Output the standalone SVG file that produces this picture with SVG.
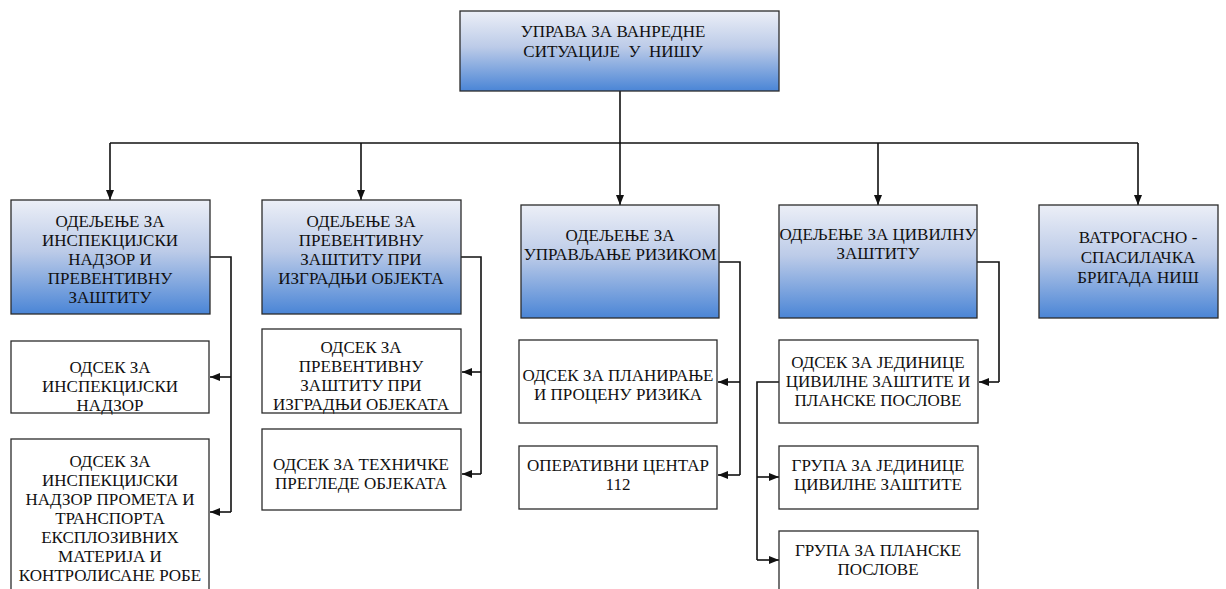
<svg xmlns="http://www.w3.org/2000/svg" width="1226" height="589" viewBox="0 0 1226 589" font-family="Liberation Serif, DejaVu Serif, serif" font-size="17">
<style>
text{fill:#111;text-anchor:middle}
.hd{fill:url(#g);stroke:#2b2b2b;stroke-width:1.3}
.sb{fill:#fff;stroke:#2b2b2b;stroke-width:1.3}
.c{fill:none;stroke:#111;stroke-width:1.6}
</style>
<defs>
<linearGradient id="g" x1="0" y1="0" x2="0" y2="1">
<stop offset="0" stop-color="#eceff7"/>
<stop offset="0.45" stop-color="#bccbe8"/>
<stop offset="1" stop-color="#4a85d6"/>
</linearGradient>
<marker id="a" viewBox="0 0 10 10" refX="10" refY="5" markerWidth="10" markerHeight="10" markerUnits="userSpaceOnUse" orient="auto">
<path d="M0,1 L10,5 L0,9 Z" fill="#111"/>
</marker>
</defs>
<g id="connectors">
<path class="c" d="M620,91 V143"/>
<path class="c" d="M110,143 H1138"/>
<path class="c" d="M110,143 V200" marker-end="url(#a)"/>
<path class="c" d="M361,143 V200" marker-end="url(#a)"/>
<path class="c" d="M620,143 V205" marker-end="url(#a)"/>
<path class="c" d="M878,143 V205" marker-end="url(#a)"/>
<path class="c" d="M1138,143 V205" marker-end="url(#a)"/>
<path class="c" d="M210,257 H231 V512"/>
<path class="c" d="M231,377 H210" marker-end="url(#a)"/>
<path class="c" d="M231,512 H210" marker-end="url(#a)"/>
<path class="c" d="M461,257 H481 V474"/>
<path class="c" d="M481,372 H462" marker-end="url(#a)"/>
<path class="c" d="M481,474 H462" marker-end="url(#a)"/>
<path class="c" d="M719,262 H740 V475"/>
<path class="c" d="M740,382 H718" marker-end="url(#a)"/>
<path class="c" d="M740,475 H718" marker-end="url(#a)"/>
<path class="c" d="M977,262 H999 V382"/>
<path class="c" d="M999,382 H979" marker-end="url(#a)"/>
<path class="c" d="M779,382 H757 V560"/>
<path class="c" d="M757,477 H779" marker-end="url(#a)"/>
<path class="c" d="M757,560 H779" marker-end="url(#a)"/>
</g>
<g id="uprava">
<rect class="hd" x="460" y="11" width="319" height="80"/>
<text x="613" y="37">УПРАВА ЗА ВАНРЕДНЕ</text>
<text x="613" y="57" xml:space="preserve">СИТУАЦИЈЕ  У  НИШУ</text>
</g>
<g id="odeljenje1">
<rect class="hd" x="11" y="200" width="199" height="114"/>
<text x="110" y="227">ОДЕЉЕЊЕ ЗА</text>
<text x="110" y="246">ИНСПЕКЦИЈСКИ</text>
<text x="110" y="265">НАДЗОР И</text>
<text x="110" y="284">ПРЕВЕНТИВНУ</text>
<text x="110" y="303">ЗАШТИТУ</text>
</g>
<g id="odeljenje2">
<rect class="hd" x="262" y="200" width="199" height="114"/>
<text x="361" y="227">ОДЕЉЕЊЕ ЗА</text>
<text x="361" y="246">ПРЕВЕНТИВНУ</text>
<text x="361" y="265">ЗАШТИТУ ПРИ</text>
<text x="361" y="284">ИЗГРАДЊИ ОБЈЕКТА</text>
</g>
<g id="odeljenje3">
<rect class="hd" x="521" y="205" width="198" height="113"/>
<text x="620" y="241">ОДЕЉЕЊЕ ЗА</text>
<text x="620" y="260">УПРАВЉАЊЕ РИЗИКОМ</text>
</g>
<g id="odeljenje4">
<rect class="hd" x="779" y="205" width="198" height="113"/>
<text x="878" y="240">ОДЕЉЕЊЕ ЗА ЦИВИЛНУ</text>
<text x="878" y="259">ЗАШТИТУ</text>
</g>
<g id="brigada">
<rect class="hd" x="1039" y="205" width="179" height="113"/>
<text x="1138" y="243">ВАТРОГАСНО -</text>
<text x="1138" y="263">СПАСИЛАЧКА</text>
<text x="1138" y="283">БРИГАДА НИШ</text>
</g>
<g id="odsek-inspekcijski">
<rect class="sb" x="11" y="341" width="198" height="72"/>
<text x="110" y="373">ОДСЕК ЗА</text>
<text x="110" y="392">ИНСПЕКЦИЈСКИ</text>
<text x="110" y="411">НАДЗОР</text>
</g>
<g id="odsek-promet">
<rect class="sb" x="11" y="439" width="198" height="160"/>
<text x="110" y="467">ОДСЕК ЗА</text>
<text x="110" y="486">ИНСПЕКЦИЈСКИ</text>
<text x="110" y="505">НАДЗОР ПРОМЕТА И</text>
<text x="110" y="524">ТРАНСПОРТА</text>
<text x="110" y="543">ЕКСПЛОЗИВНИХ</text>
<text x="110" y="562">МАТЕРИЈА И</text>
<text x="110" y="581">КОНТРОЛИСАНЕ РОБЕ</text>
</g>
<g id="odsek-preventivna">
<rect class="sb" x="262" y="329" width="199" height="84"/>
<text x="361" y="353">ОДСЕК ЗА</text>
<text x="361" y="372">ПРЕВЕНТИВНУ</text>
<text x="361" y="391">ЗАШТИТУ ПРИ</text>
<text x="361" y="410">ИЗГРАДЊИ ОБЈЕКАТА</text>
</g>
<g id="odsek-tehnicki">
<rect class="sb" x="262" y="429" width="199" height="81"/>
<text x="361" y="470">ОДСЕК ЗА ТЕХНИЧКЕ</text>
<text x="361" y="489">ПРЕГЛЕДЕ ОБЈЕКАТА</text>
</g>
<g id="odsek-planiranje">
<rect class="sb" x="519" y="340" width="198" height="83"/>
<text x="618" y="381">ОДСЕК ЗА ПЛАНИРАЊЕ</text>
<text x="618" y="400">И ПРОЦЕНУ РИЗИКА</text>
</g>
<g id="operativni-centar">
<rect class="sb" x="519" y="446" width="198" height="63"/>
<text x="618" y="471">ОПЕРАТИВНИ ЦЕНТАР</text>
<text x="618" y="490">112</text>
</g>
<g id="odsek-jedinice">
<rect class="sb" x="779" y="340" width="199" height="83"/>
<text x="878" y="368">ОДСЕК ЗА ЈЕДИНИЦЕ</text>
<text x="878" y="387">ЦИВИЛНЕ ЗАШТИТЕ И</text>
<text x="878" y="406">ПЛАНСКЕ ПОСЛОВЕ</text>
</g>
<g id="grupa-jedinice">
<rect class="sb" x="779" y="446" width="199" height="63"/>
<text x="878" y="471">ГРУПА ЗА ЈЕДИНИЦЕ</text>
<text x="878" y="490">ЦИВИЛНЕ ЗАШТИТЕ</text>
</g>
<g id="grupa-planske">
<rect class="sb" x="779" y="531" width="199" height="68"/>
<text x="878" y="556">ГРУПА ЗА ПЛАНСКЕ</text>
<text x="878" y="575">ПОСЛОВЕ</text>
</g>
</svg>
